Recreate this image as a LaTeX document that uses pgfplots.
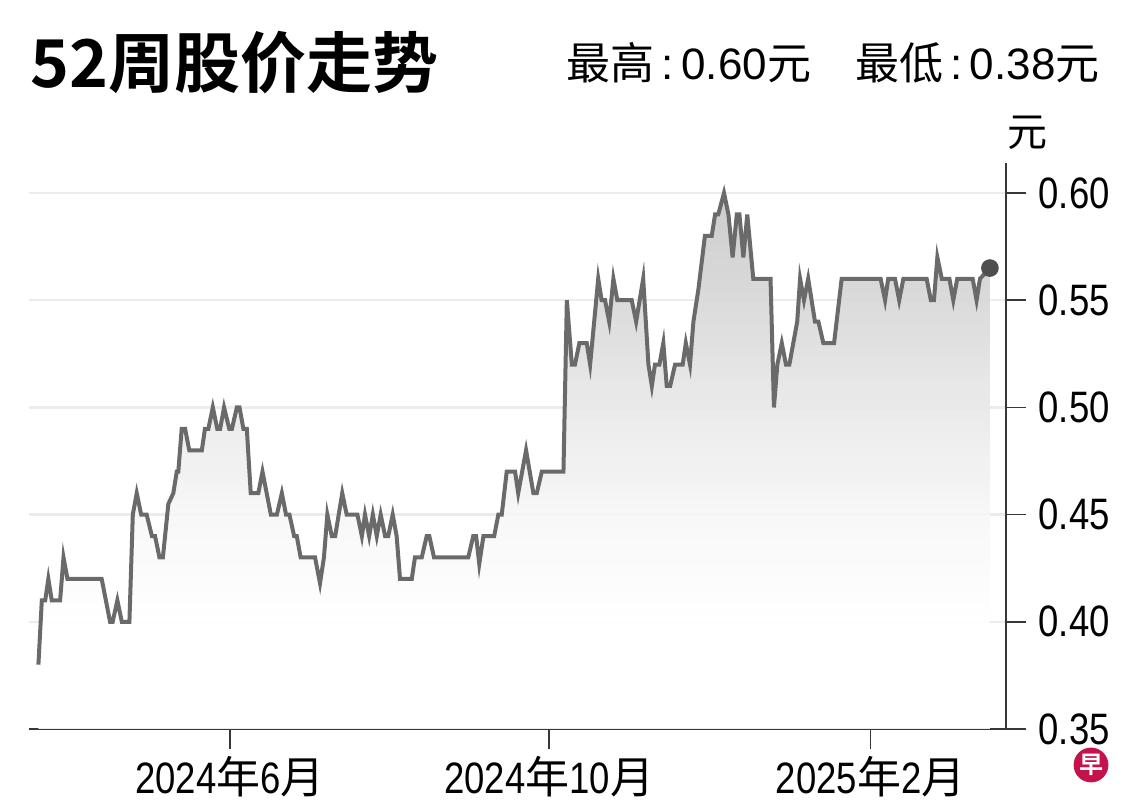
\documentclass[border=0pt]{standalone}
\usepackage{fontspec}
\setmainfont{Liberation Sans}[FakeStretch=0.83]
\newfontfamily\plain{Liberation Sans}
\newfontfamily\cjk{Noto Sans CJK SC}
\newfontfamily\cjkbold{Noto Sans CJK SC Bold}
\usepackage{pgfplots}
\usepackage{pgfplotstable}
\pgfplotsset{compat=1.18}

\definecolor{linegray}{RGB}{106,106,106}
\definecolor{dotgray}{RGB}{78,78,78}
\definecolor{axisgray}{RGB}{55,55,55}
\definecolor{gridgray}{RGB}{236,236,236}
\definecolor{zaobao}{RGB}{196,18,74}

% grey fade under the line: 25bp = bottom of the area, 75bp = its top (0.60)
\pgfdeclareverticalshading{pricefade}{100bp}{
    color(0bp)=(white); color(35bp)=(white); color(45bp)=(black!3.3);
    color(55bp)=(black!9); color(64.5bp)=(black!15.5);
    color(75bp)=(black!22); color(100bp)=(black!22)}

% days since 1 Jun 2024, closing price (yuan)
\pgfplotstableread{
day price
-73.3 0.38
-72.0 0.41
-70.7 0.41
-69.5 0.42
-68.2 0.41
-65.0 0.41
-63.7 0.43
-62.2 0.42
-49.1 0.42
-45.9 0.40
-44.9 0.40
-43.1 0.41
-41.4 0.40
-38.5 0.40
-37.2 0.45
-35.7 0.46
-34.0 0.45
-31.9 0.45
-29.9 0.44
-28.7 0.44
-27.0 0.43
-25.7 0.43
-23.6 0.455
-21.7 0.46
-20.4 0.47
-19.8 0.47
-18.5 0.49
-17.2 0.49
-15.6 0.48
-10.8 0.48
-9.6 0.49
-8.3 0.49
-6.6 0.50
-4.9 0.49
-3.8 0.49
-2.3 0.50
-0.3 0.49
0.7 0.49
2.6 0.50
3.6 0.50
5.1 0.49
6.4 0.49
7.9 0.46
10.8 0.46
12.4 0.47
15.6 0.45
17.9 0.45
19.8 0.46
21.4 0.45
22.7 0.45
24.5 0.44
25.5 0.44
27.0 0.43
32.5 0.43
34.4 0.418
35.9 0.43
37.2 0.45
38.9 0.44
40.2 0.44
42.9 0.46
44.6 0.45
48.7 0.45
50.4 0.44
51.6 0.45
53.2 0.44
54.6 0.45
56.1 0.44
57.6 0.45
59.3 0.44
60.5 0.44
62.2 0.45
63.7 0.44
65.0 0.42
69.5 0.42
70.7 0.43
73.3 0.43
75.2 0.44
76.2 0.44
78.0 0.43
91.1 0.43
93.0 0.44
94.1 0.44
95.3 0.427
96.9 0.44
101.0 0.44
102.6 0.45
103.9 0.45
105.8 0.47
109.0 0.47
110.2 0.46
113.2 0.48
116.0 0.46
117.3 0.46
119.2 0.47
127.5 0.47
128.8 0.55
130.7 0.52
131.9 0.52
133.6 0.53
136.4 0.53
137.7 0.52
140.8 0.56
142.1 0.55
143.4 0.55
145.0 0.54
146.6 0.56
148.1 0.55
153.6 0.55
155.3 0.54
158.0 0.56
160.0 0.52
161.3 0.51
162.5 0.52
164.2 0.52
165.7 0.53
167.0 0.51
168.3 0.51
170.2 0.52
173.1 0.52
174.3 0.53
175.9 0.52
177.2 0.54
179.1 0.555
181.6 0.58
184.2 0.58
185.5 0.59
186.7 0.59
188.9 0.60
190.6 0.59
192.2 0.57
193.8 0.59
194.8 0.59
196.3 0.57
197.8 0.59
200.1 0.56
206.7 0.56
208.0 0.50
209.3 0.52
211.0 0.53
212.6 0.52
213.9 0.52
215.4 0.53
216.9 0.54
218.0 0.56
219.5 0.55
221.1 0.56
223.7 0.54
225.0 0.54
226.9 0.53
231.0 0.53
233.9 0.56
248.8 0.56
250.5 0.55
251.7 0.56
254.3 0.56
255.9 0.55
257.5 0.56
266.4 0.56
268.0 0.55
269.2 0.55
270.5 0.57
272.2 0.56
275.1 0.56
276.6 0.55
278.1 0.56
284.0 0.56
285.5 0.55
286.8 0.56
290.6 0.565
}\pricedata

\begin{document}
\begin{tikzpicture}
\useasboundingbox (-14.5pt,-41.5pt) rectangle (555.5pt,364.5pt);

% y is plotted as price - 0.35 so that \closedcycle closes on the bottom axis line
\begin{axis}[
    at={(0,0)},
    anchor=south west,
    width=488.3pt,
    height=283pt,
    scale only axis,
    xmin=-76.9,
    xmax=296.6,
    ymin=0,
    ymax=0.264,
    axis x line*=bottom,
    axis y line*=right,
    axis line style={draw=axisgray, line width=1pt, -},
    xtick={0,122,245},
    xticklabels={
        {2024{\cjk 年}6{\cjk 月}},
        {2024{\cjk 年}10{\cjk 月}},
        {2025{\cjk 年}2{\cjk 月}}},
    ytick={0,0.05,0.10,0.15,0.20,0.25},
    yticklabels={0.35,0.40,0.45,0.50,0.55,0.60},
    tick align=outside,
    major tick length=10pt,
    tick style={draw=axisgray, line width=0.75pt},
    ymajorgrids,
    major grid style={draw=gridgray, line width=1.2pt},
    tick label style={font=\fontsize{22}{22}\selectfont},
    yticklabel style={anchor=west, xshift=3pt},
]

\addplot[
    draw=none,
    shading=pricefade,
    fill opacity=0.9,
]
table[x=day, y expr=\thisrow{price}-0.35] {\pricedata} \closedcycle;

\addplot[
    color=linegray,
    line width=2pt,
]
table[x=day, y expr=\thisrow{price}-0.35] {\pricedata};

\addplot[only marks, mark=*, mark size=4.2pt, draw=dotgray, fill=dotgray]
coordinates {(290.6,0.215)};

\end{axis}

\node[anchor=base west, inner sep=0pt, font=\cjkbold\fontsize{33}{33}\selectfont]
    at (0.5pt,320.5pt) {52周股价走势};
\node[anchor=base east, inner sep=0pt, font=\plain\fontsize{22}{22}\selectfont]
    at (535.5pt,324.5pt)
    {{\cjk 最高}\,:\,0.60{\cjk 元}\hspace{22pt}{\cjk 最低}\,:\,0.38{\cjk 元}};
\node[inner sep=0pt, font=\cjk\fontsize{20}{20}\selectfont]
    at (499pt,298pt) {元};

\fill[zaobao] (531pt,-18pt) circle (8.7pt);
\node[text=white, inner sep=0pt, font=\cjkbold\fontsize{12}{12}\selectfont]
    at (531pt,-18pt) {早};
\end{tikzpicture}
\end{document}
